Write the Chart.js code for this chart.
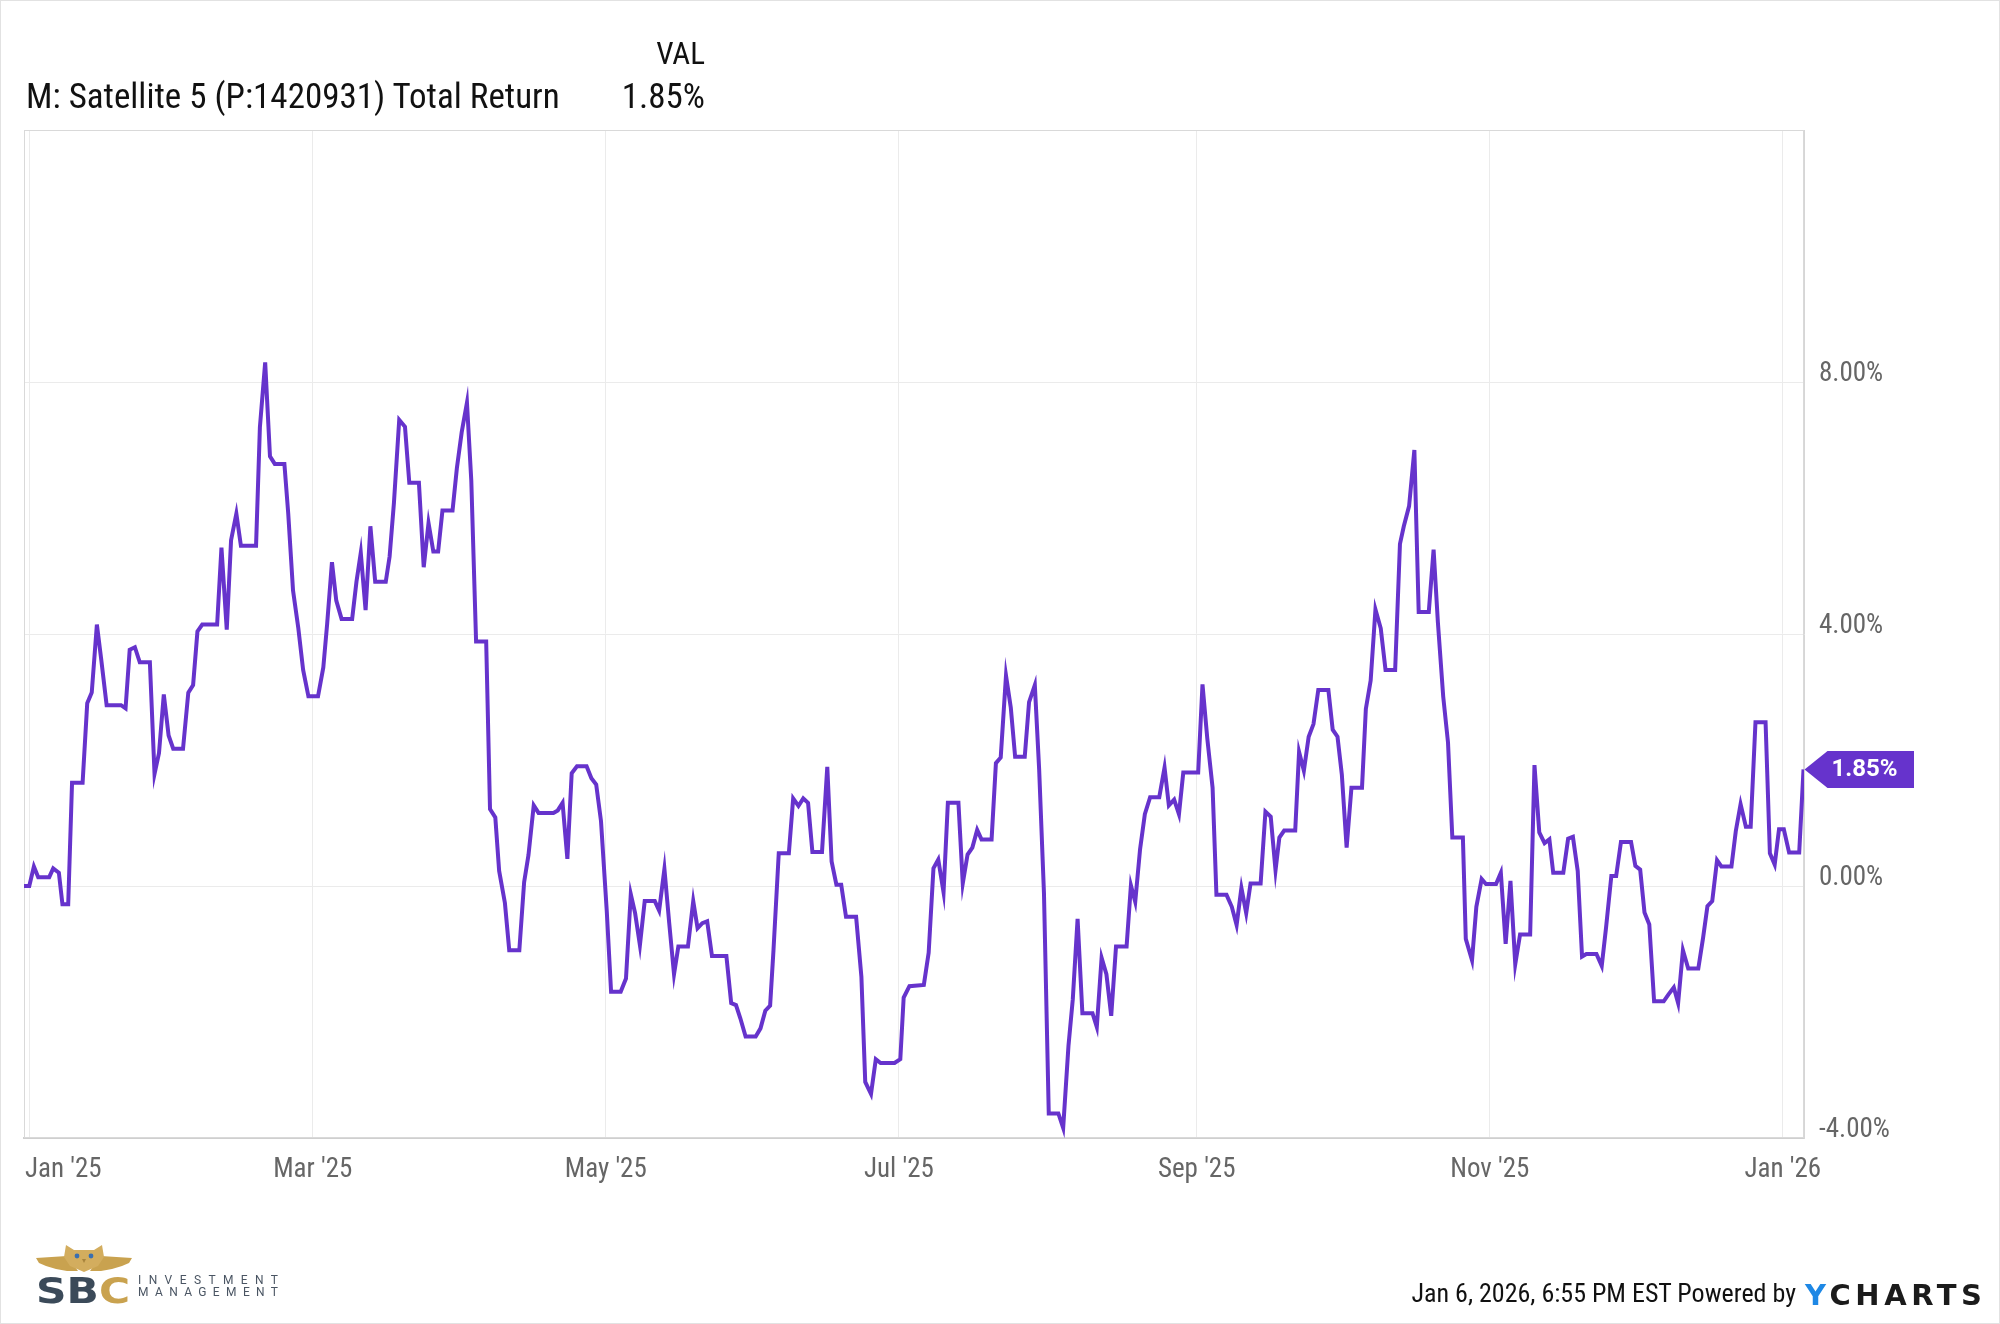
<!DOCTYPE html>
<html>
<head>
<meta charset="utf-8">
<title>M: Satellite 5 Total Return</title>
<script src="https://cdn.jsdelivr.net/npm/chart.js@4.4.0/dist/chart.umd.min.js"></script>
<style>
  html, body { margin: 0; padding: 0; background: #fff; }
  #wrap { position: relative; width: 2000px; height: 1324px; overflow: hidden; background: #fff; }
  #chart { position: absolute; left: 0; top: 0; }
  #frame { position: absolute; left: 0; top: 0; width: 1998px; height: 1322px; border: 1px solid #e2e2e2; pointer-events: none; }
  .txt { position: absolute; white-space: nowrap; color: #111; font-family: Roboto, sans-serif; }
  #footNote { color: #111; }
  #ylogo { font-family: "DejaVu Sans", sans-serif; font-weight: 700; color: #1b1b1b; }
  #ylogo span { color: #1e88e5; }
  #sbc { font-family: "DejaVu Sans", sans-serif; font-weight: 700; color: #3b4a59; }
  #sbc span { color: #c9a24f; }
  .sbcWord { color: #4a5563; font-weight: 400; }
</style>
</head>
<body>
<div id="wrap">
  <canvas id="chart" width="2000" height="1324"></canvas>
  <div id="frame"></div>

  <div class="txt" id="valHead">VAL</div>
  <div class="txt" id="seriesName">M: Satellite 5 (P:1420931) Total Return</div>
  <div class="txt" id="seriesVal">1.85%</div>

  <svg id="owl" width="96" height="32" viewBox="0 0 96 32" style="position:absolute;left:36px;top:1244px">
    <polygon points="31,12 0,14 3,19 10,22 20,25 31,27 42,27" fill="#c9a24f"/>
    <polygon points="65,12 96,14 93,19 86,22 76,25 65,27 54,27" fill="#c9a24f"/>
    <path d="M30,1 L38,6 L58,6 L66,1 L68,13 L62,22 L48,28 L34,22 L28,13 Z" fill="#d3ad5e"/>
    <circle cx="41" cy="12" r="2.4" fill="#3a6fb0"/>
    <circle cx="55" cy="12" r="2.4" fill="#3a6fb0"/>
    <path d="M46,15 L48,19 L50,15 Z" fill="#a8843c"/>
  </svg>
  <div class="txt" id="sbc">SB<span>C</span></div>
  <div class="txt sbcWord" id="sbcTop">INVESTMENT</div>
  <div class="txt sbcWord" id="sbcBottom">MANAGEMENT</div>

  <div class="txt" id="footNote">Jan 6, 2026, 6:55 PM EST Powered by</div>
  <div class="txt" id="ylogo"><span>Y</span>CHARTS</div>
</div>

<script>
// ======================
// Satellite 5 total return, Jan 2025 - Jan 2026
// ======================

// ===== Data (x = days since Jan 1 2025, y = total return %) =====
const monthTickDays = [0, 59, 120, 181, 243, 304, 365];
const monthTickLabels = ["Jan '25", "Mar '25", "May '25", "Jul '25", "Sep '25", "Nov '25", "Jan '26"];
const yGridValues = [-4, 0, 4, 8, 12];

const tradeDays = [
  -1.1, 0, 0.96, 1.86, 4.15, 4.98, 6.16, 6.9, 8.1, 8.9,
  11.1, 12.06, 13.0, 14.07, 15.0, 16.1, 19.1, 20.04, 20.9, 21.98,
  23.0, 25.1, 26.07, 27.0, 28.0, 29.0, 29.96, 32.0, 33.1, 34.1,
  35.0, 36.0, 39.1, 40.0, 41.1, 42.0, 43.1, 44.05, 47.2, 48.0,
  49.1, 50.1, 51.1, 53.1, 53.9, 54.9, 56.0, 57.0, 58.1, 60.1,
  61.2, 62.0, 63.0, 63.9, 65.0, 67.2, 68.1, 69.0, 70.0, 71.0,
  72.0, 74.2, 75.0, 75.9, 77.0, 78.2, 79.1, 81.1, 82.1, 83.1,
  84.1, 85.1, 86.0, 88.1, 89.0, 90.0, 91.1, 92.0, 93.0, 95.1,
  95.9, 97.0, 97.8, 99.0, 99.9, 102.0, 103.0, 103.9, 105.0, 106.0,
  109.1, 110.0, 111.0, 112.0, 112.9, 114.0, 116.0, 117.0, 118.0, 119.0,
  120.2, 121.1, 123.1, 124.2, 125.2, 126.1, 127.1, 128.1, 130.2, 131.1,
  132.2, 133.2, 134.2, 135.1, 137.1, 138.2, 139.1, 140.1, 141.1, 142.1,
  145.1, 146.1, 147.1, 148.0, 149.1, 151.2, 152.2, 153.2, 154.2, 154.9,
  156.0, 158.1, 159.0, 160.1, 161.1, 162.1, 163.0, 165.0, 166.1, 167.0,
  168.0, 169.0, 170.0, 172.1, 173.2, 174.0, 175.2, 176.2, 177.2, 180.1,
  181.3, 182.0, 183.2, 186.2,
  187.2, 188.2, 189.2, 190.3, 191.2, 193.4, 194.3, 195.3, 196.3, 197.3,
  198.2, 200.3, 201.2, 202.2, 203.3, 204.3, 205.2, 207.2, 208.1, 209.3,
  210.2, 211.2, 212.2, 214.2, 215.2, 216.3, 217.2, 218.2, 219.2, 221.3,
  222.2, 223.2, 224.2, 225.2, 226.2, 228.4, 229.3, 230.2, 231.2, 232.2,
  233.3, 235.2, 236.3, 237.2, 238.3, 239.3, 240.2, 243.3, 244.2,
  245.2, 246.3, 247.1, 249.2, 250.3, 251.3, 252.3, 253.3, 254.2, 256.3,
  257.3, 258.4, 259.4, 260.2, 261.2, 263.5, 264.3, 265.3, 266.3, 267.3,
  268.3, 270.4, 271.3, 272.3, 273.2, 274.2, 275.2, 277.4, 278.2, 279.2,
  280.2, 281.3, 282.3, 284.3, 285.3, 286.1, 287.2, 288.3, 289.2, 291.3,
  292.3, 293.2, 294.3, 295.3, 296.2, 298.4, 299.0, 300.3, 301.2, 302.3,
  303.2, 305.3, 306.3, 307.3, 308.3, 309.3, 310.3,
  312.4, 313.3, 314.3, 315.4, 316.4, 317.2, 319.3, 320.3, 321.3, 322.3,
  323.2, 324.1, 326.2, 327.3, 328.2, 329.3, 330.3, 331.3, 333.4, 334.3,
  335.3, 336.2, 337.2, 338.2, 340.2, 341.2, 342.3, 343.2, 344.2, 345.3,
  347.4, 348.4, 349.3, 350.3, 351.3, 352.2, 354.3, 355.2, 356.2, 357.3,
  358.3, 359.3, 361.4, 362.3, 363.3, 364.2, 365.2, 366.3, 368.4, 369.3
];

const totalReturn = [
  0, 0, 0.31, 0.14, 0.14, 0.28, 0.21, -0.29, -0.29, 1.64,
  1.64, 2.90, 3.07, 4.15, 3.58, 2.87, 2.87, 2.82, 3.75, 3.79,
  3.55, 3.55, 1.78, 2.11, 3.04, 2.39, 2.18, 2.18, 3.07, 3.19,
  4.04, 4.15, 4.15, 5.37, 4.07, 5.49, 5.91, 5.40, 5.40, 7.28,
  8.31, 6.82, 6.70, 6.70, 5.91, 4.69, 4.09, 3.43, 3.01, 3.01,
  3.47, 4.16, 5.14, 4.53, 4.24, 4.24, 4.83, 5.29, 4.38, 5.71,
  4.83, 4.83, 5.23, 6.08, 7.40, 7.29, 6.40, 6.40, 5.06, 5.76,
  5.31, 5.31, 5.96, 5.96, 6.63, 7.20, 7.67, 6.44, 3.88, 3.88,
  1.22, 1.09, 0.24, -0.27, -1.02, -1.02, 0.06, 0.49, 1.28, 1.16,
  1.16, 1.20, 1.32, 0.43, 1.79, 1.90, 1.90, 1.71, 1.61, 1.03,
  -0.40, -1.68, -1.68, -1.47, -0.13, -0.43, -0.94, -0.24, -0.24, -0.39,
  0.27, -0.59, -1.40, -0.96, -0.96, -0.24, -0.67, -0.59, -0.56, -1.11,
  -1.11, -1.86, -1.89, -2.10, -2.39, -2.39, -2.26, -1.98, -1.90, -1.02,
  0.52, 0.52, 1.39, 1.27, 1.39, 1.32, 0.54, 0.54, 1.89, 0.39,
  0.02, 0.02, -0.49, -0.49, -1.44, -3.11, -3.30, -2.75, -2.81, -2.81,
  -2.75, -1.77, -1.59, -1.57,
  -1.06, 0.28, 0.42, -0.10, 1.32, 1.32, 0.04, 0.50, 0.61, 0.89,
  0.74, 0.74, 1.95, 2.04, 3.34, 2.83, 2.05, 2.05, 2.92, 3.19,
  1.85, -0.11, -3.61, -3.61, -3.84, -2.54, -1.80, -0.52, -2.02, -2.02,
  -2.24, -1.14, -1.40, -2.06, -0.96, -0.96, 0.01, -0.25, 0.58, 1.14,
  1.41, 1.41, 1.88, 1.28, 1.37, 1.14, 1.80, 1.80, 3.20,
  2.34, 1.56, -0.14, -0.14, -0.33, -0.62, -0.03, -0.43, 0.04, 0.04,
  1.18, 1.10, 0.25, 0.77, 0.88, 0.88, 2.13, 1.83, 2.37, 2.57,
  3.11, 3.11, 2.48, 2.37, 1.77, 0.61, 1.56, 1.56, 2.81, 3.26,
  4.39, 4.09, 3.43, 3.43, 5.43, 5.71, 6.03, 6.92, 4.35, 4.35,
  5.34, 4.18, 3.01, 2.28, 0.77, 0.77, -0.84, -1.18, -0.33, 0.11,
  0.03, 0.03, 0.21, -0.92, 0.08, -1.24, -0.77,
  -0.77, 1.92, 0.85, 0.68, 0.74, 0.21, 0.21, 0.75, 0.78, 0.24,
  -1.12, -1.08, -1.08, -1.27, -0.66, 0.16, 0.16, 0.70, 0.70, 0.32,
  0.26, -0.42, -0.61, -1.83, -1.83, -1.72, -1.61, -1.86, -1.02, -1.31,
  -1.31, -0.82, -0.32, -0.24, 0.41, 0.31, 0.31, 0.87, 1.30, 0.94,
  0.94, 2.60, 2.60, 0.52, 0.34, 0.90, 0.90, 0.53, 0.53, 1.85
];

const LINE_COLOR = "#6633cc";
const GRID_COLOR = "#ebebeb";
const TICK_COLOR = "#666666";

// ===== Fonts =====
function fontInstalled(name) {
  const c = document.createElement("canvas").getContext("2d");
  c.font = `40px "${name}", monospace`;
  const a = c.measureText("Satellite 1420931").width;
  c.font = "40px monospace";
  return a !== c.measureText("Satellite 1420931").width;
}

const HAS_COND = fontInstalled("Roboto Condensed");
const TEXT_FAMILY = HAS_COND ? '"Roboto Condensed", Roboto, sans-serif' : "Roboto, sans-serif";
const SQUEEZE = HAS_COND ? 1 : 0.87;

// put a text element by its baseline (Roboto metrics)
function placeText(id, x, baseline, size, align, squeeze) {
  const el = document.getElementById(id);
  el.style.fontSize = size + "px";
  el.style.lineHeight = size + "px";
  el.style.top = (baseline - 0.8415 * size) + "px";
  if (align === "right") {
    el.style.right = (2000 - x) + "px";
    el.style.transformOrigin = "right top";
  } else {
    el.style.left = x + "px";
    el.style.transformOrigin = "left top";
  }
  if (squeeze !== 1) el.style.transform = `scaleX(${squeeze})`;
  return el;
}

function spreadTo(el, target) {
  const n = el.textContent.length;
  const w0 = el.getBoundingClientRect().width;
  el.style.letterSpacing = ((target - w0) / (n - 1)) + "px";
}

function fitTo(el, target, origin) {
  const w0 = el.getBoundingClientRect().width;
  el.style.transformOrigin = origin + " top";
  el.style.transform = `scaleX(${target / w0})`;
}

// ===== Header / footer text =====
["valHead", "seriesName", "seriesVal", "footNote"].forEach(id => {
  document.getElementById(id).style.fontFamily = TEXT_FAMILY;
});
placeText("valHead", 705, 64, 31, "right", SQUEEZE);
placeText("seriesName", 26, 108, 35, "left", SQUEEZE);
placeText("seriesVal", 705, 108, 35, "right", SQUEEZE);
placeText("footNote", 1796, 1302, 26, "right", SQUEEZE);

const ylogo = placeText("ylogo", 1805, 1305, 29, "left", 1);
spreadTo(ylogo, 177);

const sbc = placeText("sbc", 36, 1303, 36, "left", 1);
fitTo(sbc, 94, "left");
spreadTo(placeText("sbcTop", 138, 1284, 12, "left", 1), 140);
spreadTo(placeText("sbcBottom", 138, 1296, 12, "left", 1), 140);

// ===== Chart plugins =====
const plotFrame = {
  id: "plotFrame",
  beforeDatasetsDraw(chart) {
    const { ctx, chartArea: a } = chart;
    ctx.save();
    ctx.strokeStyle = "#d9d9d9";
    ctx.lineWidth = 1;
    ctx.strokeRect(a.left + 0.5, a.top + 0.5, a.right - a.left - 1, a.bottom - a.top - 1);
    ctx.restore();
  }
};

const monthLabels = {
  id: "monthLabels",
  afterDraw(chart) {
    const { ctx, chartArea: a } = chart;
    const xs = chart.scales.x;
    ctx.save();
    ctx.font = `${HAS_COND ? 27 : 25}px ${TEXT_FAMILY}`;
    ctx.fillStyle = TICK_COLOR;
    ctx.textBaseline = "alphabetic";
    ctx.textAlign = "left";
    monthTickDays.forEach((d, i) => {
      const label = monthTickLabels[i];
      const w = ctx.measureText(label).width;
      const left = Math.max(xs.getPixelForValue(d) - w / 2, a.left + 1);
      ctx.fillText(label, left, 1177);
    });
    ctx.restore();
  }
};

const lastBadge = {
  id: "lastBadge",
  afterDatasetsDraw(chart) {
    const { ctx } = chart;
    const n = tradeDays.length - 1;
    const px = chart.scales.x.getPixelForValue(tradeDays[n]);
    const py = chart.scales.y.getPixelForValue(totalReturn[n]);
    const tip = px + 1, notch = tip + 23, right = 1914, half = 18.5;
    ctx.save();
    ctx.fillStyle = LINE_COLOR;
    ctx.beginPath();
    ctx.moveTo(tip, py);
    ctx.lineTo(notch, py - half);
    ctx.lineTo(right, py - half);
    ctx.lineTo(right, py + half);
    ctx.lineTo(notch, py + half);
    ctx.closePath();
    ctx.fill();
    ctx.fillStyle = "#ffffff";
    ctx.font = "bold 24px Roboto, sans-serif";
    ctx.textBaseline = "middle";
    ctx.textAlign = "left";
    ctx.fillText(totalReturn[n].toFixed(2) + "%", notch + 4, py + 1);
    ctx.restore();
  }
};

// ===== Chart =====
const ctx = document.getElementById("chart").getContext("2d");
new Chart(ctx, {
  type: "line",
  data: {
    datasets: [{
      label: "M: Satellite 5 (P:1420931) Total Return",
      data: tradeDays.map((d, i) => ({ x: d, y: totalReturn[i] })),
      borderColor: LINE_COLOR,
      borderWidth: 4,
      pointRadius: 0,
      tension: 0,
      fill: false
    }]
  },
  options: {
    responsive: false,
    animation: false,
    devicePixelRatio: 1,
    layout: { padding: { left: 24, top: 130, right: 0, bottom: 0 } },
    plugins: { legend: { display: false }, tooltip: { enabled: false } },
    scales: {
      x: {
        type: "linear",
        min: -1.1,
        max: 369.4,
        afterBuildTicks: s => { s.ticks = monthTickDays.map(v => ({ value: v })); },
        afterFit: s => { s.height = 186; },
        grid: { color: GRID_COLOR, drawTicks: false },
        border: { display: true, color: "#cfcfcf", width: 2 },
        ticks: { display: false }
      },
      y: {
        position: "right",
        min: -4,
        max: 12,
        afterBuildTicks: s => { s.ticks = yGridValues.map(v => ({ value: v })); },
        afterFit: s => { s.width = 196; },
        grid: { color: GRID_COLOR, drawTicks: false },
        border: { color: "#d6d6d6" },
        ticks: {
          padding: 15,
          labelOffset: -8,
          color: TICK_COLOR,
          font: { family: TEXT_FAMILY, size: HAS_COND ? 27 : 25 },
          callback: v => (v === 12 ? "" : v.toFixed(2) + "%")
        }
      }
    }
  },
  plugins: [plotFrame, monthLabels, lastBadge]
});
</script>
</body>
</html>
